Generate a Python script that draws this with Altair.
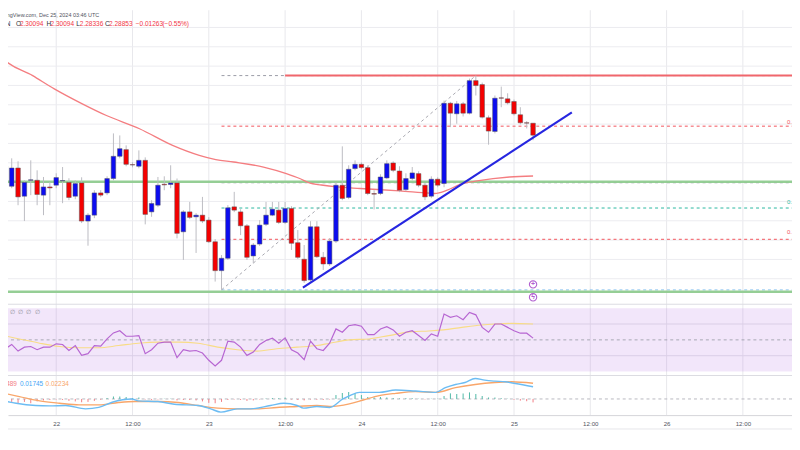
import altair as alt
import pandas as pd

# ---------------- data ----------------
# hourly candles, hour 0 = Dec 22 00:00 UTC
hours = list(range(-9, 76))
opens = [2.2378, 2.2564, 2.2357, 2.2546, 2.2254, 2.2419, 2.2419, 2.2265, 2.2350, 2.2368,
         2.2412, 2.2396, 2.2254, 2.2391, 2.1997, 2.2058, 2.2288, 2.2288, 2.2437, 2.2667,
         2.2736, 2.2581, 2.2564, 2.2625, 2.2092, 2.2161, 2.2378, 2.2375, 2.2391, 2.1886,
         2.2092, 2.2041, 2.2058, 2.2007, 2.1783, 2.1484, 2.1612, 2.2144, 2.2092, 2.1948,
         2.1636, 2.1759, 2.1963, 2.2058, 2.2110, 2.1983, 2.2127, 2.1773, 2.1602, 2.1388,
         2.1938, 2.1622, 2.1553, 2.1790, 2.2368, 2.2241, 2.2540, 2.2584, 2.2550, 2.2282,
         2.2282, 2.2443, 2.2598, 2.2515, 2.2323, 2.2437, 2.2488, 2.2368, 2.2254, 2.2430,
         2.2385, 2.3216, 2.3107, 2.3210, 2.3113, 2.3450, 2.3409, 2.3066, 2.2924, 2.3272,
         2.3262, 2.3234, 2.3097, 2.3014, 2.30094]
highs = [2.2625, 2.2646, 2.2646, 2.2615, 2.2419, 2.2625, 2.2522, 2.2453, 2.2402, 2.2491,
         2.2556, 2.2440, 2.2419, 2.2450, 2.2079, 2.2316, 2.2316, 2.2460, 2.2904, 2.2883,
         2.2780, 2.2605, 2.2728, 2.2656, 2.2213, 2.2453, 2.2460, 2.2574, 2.2437, 2.2110,
         2.2195, 2.2079, 2.2247, 2.2038, 2.1811, 2.1646, 2.2162, 2.2299, 2.2120, 2.1966,
         2.1770, 2.2007, 2.2195, 2.2195, 2.2195, 2.2195, 2.2151, 2.1904, 2.1749, 2.1996,
         2.1996, 2.1677, 2.1821, 2.2399, 2.2770, 2.2574, 2.2625, 2.2605, 2.2574, 2.2316,
         2.2481, 2.2625, 2.2615, 2.2564, 2.2491, 2.2556, 2.2512, 2.2388, 2.2460, 2.2450,
         2.3244, 2.3230, 2.3240, 2.3230, 2.3471, 2.3502, 2.3430, 2.3089, 2.3296, 2.3388,
         2.3319, 2.3254, 2.3175, 2.3031, 2.30094]
lows = [2.2337, 2.2347, 2.2337, 2.2161, 2.1997, 2.2265, 2.2161, 2.2058, 2.2161, 2.2337,
        2.2182, 2.2213, 2.2223, 2.1976, 2.1742, 2.2027, 2.2244, 2.2265, 2.2419, 2.2646,
        2.2564, 2.2553, 2.2543, 2.1963, 2.2041, 2.2141, 2.2316, 2.2337, 2.1818, 2.1595,
        2.2017, 2.1667, 2.1976, 2.1770, 2.1371, 2.1285, 2.1595, 2.2089, 2.1852, 2.1595,
        2.1560, 2.1739, 2.1945, 2.2048, 2.1966, 2.1966, 2.1698, 2.1605, 2.1357, 2.1368,
        2.1615, 2.1491, 2.1532, 2.1770, 2.2213, 2.2223, 2.2522, 2.2533, 2.2265, 2.2117,
        2.2265, 2.2430, 2.2502, 2.2296, 2.2306, 2.2419, 2.2347, 2.2213, 2.2234, 2.2347,
        2.2347, 2.2969, 2.3004, 2.3079, 2.3100, 2.3296, 2.3058, 2.2787, 2.2904, 2.3175,
        2.3203, 2.3089, 2.2997, 2.2955, 2.28336]
closes = [2.2564, 2.2378, 2.2546, 2.2247, 2.2396, 2.2424, 2.2272, 2.2350, 2.2340, 2.2447,
          2.2416, 2.2241, 2.2385, 2.1997, 2.2058, 2.2288, 2.2265, 2.2437, 2.2667, 2.2746,
          2.2584, 2.2577, 2.2625, 2.2066, 2.2179, 2.2368, 2.2371, 2.2391, 2.1870, 2.2092,
          2.2035, 2.2058, 2.1997, 2.1783, 2.1484, 2.1612, 2.2134, 2.2110, 2.1948, 2.1622,
          2.1749, 2.1955, 2.2058, 2.2120, 2.1983, 2.2127, 2.1767, 2.1622, 2.1381, 2.1938,
          2.1628, 2.1553, 2.1790, 2.2368, 2.2231, 2.2533, 2.2584, 2.2550, 2.2282, 2.2275,
          2.2453, 2.2591, 2.2522, 2.2316, 2.2437, 2.2495, 2.2368, 2.2247, 2.2430, 2.2368,
          2.3216, 2.3113, 2.3210, 2.3113, 2.3450, 2.3399, 2.3072, 2.2928, 2.3268, 2.3268,
          2.3220, 2.3107, 2.3014, 2.3010, 2.28853]

# 100 EMA (salmon curve)
ema_hours = [-9.2, -8.4, -3.7, -0.3, 4.1, 7.9, 13.1, 18.3, 22.5, 25.1,
             27.9, 32.6, 36.2, 38.3, 39.8, 41.7, 44.2, 47.8, 54.0, 58.7,
             59.5, 61.5, 63.6, 66.2, 71.3, 75.0]
ema_values = [2.3740, 2.3680, 2.3502, 2.3365, 2.3210, 2.3089, 2.2952, 2.2780, 2.2677, 2.2633,
              2.2608, 2.2556, 2.2488, 2.2437, 2.2391, 2.2370, 2.2350, 2.2334, 2.2309, 2.2285,
              2.2282, 2.2316, 2.2378, 2.2412, 2.2453, 2.2463]

# RSI (hourly) and its moving average
rsi_values = [46.4, 44.4, 47.1, 42.9, 45.4, 45.8, 43.8, 45.4, 45.4, 47.5,
              47.1, 43.3, 46.4, 40.2, 41.3, 46.3, 46.1, 50.6, 54.4, 55.8,
              52.3, 52.3, 52.7, 41.3, 43.8, 47.9, 48.6, 48.6, 38.8, 43.8,
              42.9, 43.3, 41.7, 37.1, 33.6, 37.1, 49.2, 48.6, 45.4, 40.2,
              42.3, 47.1, 49.6, 51.1, 47.9, 51.3, 43.8, 41.7, 37.5, 49.2,
              44.4, 43.3, 47.9, 56.9, 54.8, 58.9, 59.6, 58.6, 53.3, 53.3,
              56.9, 58.3, 56.3, 52.3, 54.8, 55.8, 52.7, 49.6, 53.8, 52.3,
              66.3, 64.2, 65.2, 62.7, 67.3, 65.8, 57.9, 54.8, 60.0, 60.0,
              57.9, 55.8, 54.2, 54.2, 51.1]
rsi_ma_hours = [-8.9, -5.8, -2.6, 0.5, 3.6, 6.7, 9.8, 12.9, 16.0, 19.2,
                22.3, 25.4, 28.5, 31.6, 34.7, 37.9, 41.0, 43.0, 46.1, 49.2,
                52.3, 56.0, 58.6, 60.9, 63.8, 66.9, 69.0, 71.6, 75.0]
rsi_ma_values = [53.3, 50.6, 47.9, 45.8, 45.0, 45.0, 46.4, 47.9, 48.6, 48.6,
                 47.9, 45.4, 43.8, 42.9, 44.4, 45.4, 46.4, 47.9, 50.0, 50.6,
                 52.7, 55.2, 55.6, 56.3, 57.9, 59.4, 60.0, 60.4, 60.0]

# MACD
macd_hours = [-8.9, -6.3, -3.2, -1.1, 1.5, 4.6, 6.7, 8.8, 11.9, 12.9,
              16.0, 18.6, 22.3, 24.3, 25.9, 28.5, 30.6, 33.7, 35.8, 37.9,
              38.9, 41.0, 43.0, 45.1, 46.2, 47.7, 50.8, 53.4, 56.5, 59.7,
              61.2, 62.8, 64.3, 65.9, 67.4, 69.0, 70.6, 72.2, 75.0]
macd_values = [-0.0014, -0.0061, -0.0093, -0.0099, -0.0093, -0.0141, -0.0121, -0.0047, 0.0000, -0.0028,
               -0.0037, -0.0075, -0.0093, -0.0141, -0.0188, -0.0141, -0.0141, -0.0093, -0.0061, -0.0093,
               -0.0131, -0.0107, -0.0121, 0.0000, 0.0048, 0.0094, 0.0094, 0.0127, 0.0113, 0.0094,
               0.0161, 0.0207, 0.0235, 0.0292, 0.0268, 0.0254, 0.0245, 0.0221, 0.01745]
signal_hours = [-8.9, -5.8, -2.6, 0.5, 3.6, 6.7, 9.8, 12.4, 16.0, 19.2,
                22.3, 25.4, 28.5, 31.6, 34.7, 37.9, 41.0, 43.0, 46.1, 48.3,
                50.8, 53.4, 56.5, 59.7, 62.8, 65.9, 69.0, 71.6, 75.0]
signal_values = [0.0094, 0.0034, -0.0028, -0.0061, -0.0085, -0.0085, -0.0051, -0.0037, -0.0037, -0.0051,
                 -0.0093, -0.0131, -0.0141, -0.0141, -0.0121, -0.0107, -0.0093, -0.0107, -0.0070, -0.0015,
                 0.0048, 0.0080, 0.0104, 0.0094, 0.0161, 0.0207, 0.0235, 0.0245, 0.02234]
hist_values = [-0.0042, -0.0085, -0.0042, -0.0061, -0.0042, -0.0061, -0.0035, -0.0021, -0.0014, -0.0007,
               -0.0014, -0.0028, -0.0035, -0.0047, -0.0042, -0.0028, -0.0011, 0.0014, 0.0035, 0.0035,
               0.0028, 0.0014, 0.0021, -0.0007, -0.0014, -0.0007, 0.0004, 0.0004, -0.0021, -0.0014,
               -0.0014, -0.0021, -0.0035, -0.0056, -0.0061, -0.0042, -0.0014, -0.0007, -0.0014, -0.0028,
               -0.0021, -0.0007, 0.0007, 0.0014, 0.0011, 0.0020, -0.0007, -0.0014, -0.0021, -0.0007,
               -0.0011, -0.0014, -0.0007, 0.0056, 0.0085, 0.0099, 0.0085, 0.0056, 0.0028, 0.0021,
               0.0028, 0.0021, 0.0014, 0.0007, 0.0011, 0.0011, 0.0004, -0.0007, 0.0004, 0.0004,
               0.0042, 0.0080, 0.0071, 0.0078, 0.0094, 0.0071, 0.0042, 0.0021, 0.0021, 0.0011,
               0.0004, -0.0011, -0.0024, -0.0032, -0.00489]

# drawing tools / levels
grid_prices = [2.14, 2.16, 2.18, 2.20, 2.22, 2.24, 2.26, 2.28, 2.30, 2.32, 2.34, 2.36, 2.38, 2.40]
support_levels = [2.2404, 2.1265]
resistance_price = 2.3502
resistance_start_hour = 36
fib_low_hour, fib_low_price = 26, 2.1285
fib_high_hour, fib_high_price = 66, 2.3502
fib_ratios = [0.0, 0.236, 0.5, 0.618, 0.764, 1.0]
fib_colors = ["#9a9ca6", "#f2545c", "#9a9ca6", "#2bb7a0", "#f2545c", "#8ec5f0"]
trend_hours = [38.8, 81.1]
trend_prices = [2.1308, 2.3121]
event_hours = [75, 75]
event_prices = [2.1342, 2.1208]
event_glyphs = ["+", "ϟ"]
rsi_grid = [40, 60]
time_ticks = [0, 12, 24, 36, 48, 60, 72, 84, 96, 108]
tick_labels = ["22", "12:00", "23", "12:00", "24", "12:00", "25", "12:00", "26", "12:00"]

# ---------------- layout ----------------
OFF = 8                      # page margin (reference px -> chart px)
W, H, PAD_B = 792, 409, 33
PX_H = 6.4229                # pixels per hour
X_H0 = 56.7 - OFF            # chart x of hour 0
FONT = "Liberation Sans"

xs = alt.Scale(domain=[-X_H0 / PX_H, (W - X_H0) / PX_H], nice=False, zero=False, padding=0)
ps = alt.Scale(domain=[2.12, 2.40], range=[298.8 - OFF, 25.4 - OFF], nice=False, zero=False, padding=0)
rs = alt.Scale(domain=[30, 70], range=[373 - OFF, 309 - OFF], nice=False, zero=False, padding=0)
ms = alt.Scale(domain=[-0.025, 0.025], range=[418.4 - OFF, 383.0 - OFF], nice=False, zero=False, padding=0)

label_expr = " : ".join(f"datum.value == {v} ? '{t}'" for v, t in zip(time_ticks, tick_labels)) + " : ''"
x_axis = alt.Axis(values=time_ticks, labelExpr=label_expr, grid=False, ticks=False,
                  domain=True, domainColor="#d5d5da", domainWidth=1, labelFont=FONT,
                  labelFontSize=6.2, labelColor="#50535e", labelPadding=5.5, labelFlush=False,
                  labelOverlap=False, title=None)


def X(f="h"):
    return alt.X(f"{f}:Q", scale=xs, axis=x_axis)


def Y(f, s):
    return alt.Y(f"{f}:Q", scale=s, axis=None)


candles = pd.DataFrame({"h": hours, "open": opens, "high": highs, "low": lows, "close": closes})
candles["dir"] = ["up" if c >= o else "down" for o, c in zip(opens, closes)]
ema = pd.DataFrame({"h": ema_hours, "v": ema_values})
rsi = pd.DataFrame({"h": hours, "v": rsi_values})
rsi_ma = pd.DataFrame({"h": rsi_ma_hours, "v": rsi_ma_values})
macd = pd.DataFrame({"h": macd_hours, "v": macd_values})
signal = pd.DataFrame({"h": signal_hours, "v": signal_values})
hist = pd.DataFrame({"h": hours, "v": hist_values, "zero": 0.0})
hist["sign"] = ["pos" if v >= 0 else "neg" for v in hist_values]
fib = pd.DataFrame({
    "r": [str(r) for r in fib_ratios],
    "p": [fib_high_price - r * (fib_high_price - fib_low_price) for r in fib_ratios],
    "h": fib_low_hour,
})
fib_diag = pd.DataFrame({"h": [fib_low_hour, fib_high_hour], "p": [fib_low_price, fib_high_price]})
trend = pd.DataFrame({"h": trend_hours, "p": trend_prices})
ticks = pd.DataFrame({"h": time_ticks})
events = pd.DataFrame({"h": event_hours, "p": event_prices, "g": event_glyphs})

layers = []

# vertical grid (carries the time axis)
layers.append(alt.Chart(ticks).mark_rule(color="#e8e8ec", strokeWidth=1)
              .encode(x=X(), y=alt.value(0), y2=alt.value(H)))
# horizontal price grid
layers.append(alt.Chart(pd.DataFrame({"p": grid_prices})).mark_rule(color="#ececf0", strokeWidth=1)
              .encode(y=Y("p", ps)))
# RSI grid (under the band fill)
layers.append(alt.Chart(pd.DataFrame({"v": rsi_grid})).mark_rule(color="#e3e3e8", strokeWidth=1)
              .encode(y=Y("v", rs)))
# pane separators / axis bottom line
layers.append(alt.Chart(pd.DataFrame({"k": [0]})).mark_rule(color="#dcdce2", strokeWidth=1)
              .encode(y=alt.value(305 - OFF)))
layers.append(alt.Chart(pd.DataFrame({"k": [0]})).mark_rule(color="#dcdce2", strokeWidth=1)
              .encode(y=alt.value(377 - OFF)))
layers.append(alt.Chart(pd.DataFrame({"k": [0]})).mark_rule(color="#e6e6ea", strokeWidth=1)
              .encode(y=alt.value(431 - OFF)))
# RSI band background
layers.append(alt.Chart(pd.DataFrame({"a": [70], "b": [30]})).mark_rect(color="#b36be0", opacity=0.17)
              .encode(x=alt.value(0), x2=alt.value(W), y=Y("a", rs), y2="b:Q"))
layers.append(alt.Chart(pd.DataFrame({"v": [50]})).mark_rule(color="#9598a1", strokeDash=[3, 3], strokeWidth=1, opacity=0.8)
              .encode(y=Y("v", rs)))

# fib retracement
layers.append(alt.Chart(fib).mark_rule(strokeDash=[3, 3], strokeWidth=1).encode(
    x=X(), x2=alt.value(W), y=Y("p", ps),
    color=alt.Color("r:N", scale=alt.Scale(domain=[str(r) for r in fib_ratios], range=fib_colors), legend=None)))
layers.append(alt.Chart(fib_diag).mark_line(color="#a8a8b0", strokeDash=[3, 3], strokeWidth=1)
              .encode(x=X(), y=Y("p", ps)))
# support (green) and resistance (red)
layers.append(alt.Chart(pd.DataFrame({"p": support_levels})).mark_rule(color="#8fcb8f", strokeWidth=2.5, opacity=0.95)
              .encode(y=Y("p", ps)))
layers.append(alt.Chart(pd.DataFrame({"h": [resistance_start_hour], "p": [resistance_price]}))
              .mark_rule(color="#f0666c", strokeWidth=2).encode(x=X(), x2=alt.value(W), y=Y("p", ps)))
# EMA
layers.append(alt.Chart(ema).mark_line(color="#f47d80", strokeWidth=1.3, interpolate="monotone")
              .encode(x=X(), y=Y("v", ps)))
# candles
layers.append(alt.Chart(candles).mark_rule(color="#bcbcc2", strokeWidth=1)
              .encode(x=X(), y=Y("low", ps), y2="high:Q"))
layers.append(alt.Chart(candles).mark_bar(size=4.6, stroke="#55555c", strokeWidth=0.5).encode(
    x=X(), y=Y("open", ps), y2="close:Q",
    color=alt.Color("dir:N", scale=alt.Scale(domain=["up", "down"], range=["#0c0cf0", "#f40000"]), legend=None)))
# trend line
layers.append(alt.Chart(trend).mark_line(color="#2626e0", strokeWidth=2.2)
              .encode(x=X(), y=Y("p", ps)))
# event markers
layers.append(alt.Chart(events).mark_point(shape="circle", size=55, filled=True, fill="white",
                                           stroke="#b15fd0", strokeWidth=1.1, opacity=1)
              .encode(x=X(), y=Y("p", ps)))
layers.append(alt.Chart(events).mark_text(color="#b15fd0", fontSize=7, font=FONT, fontWeight="bold")
              .encode(x=X(), y=Y("p", ps), text="g:N"))

# RSI lines
layers.append(alt.Chart(rsi_ma).mark_line(color="#f8dc86", strokeWidth=1.1, interpolate="monotone")
              .encode(x=X(), y=Y("v", rs)))
layers.append(alt.Chart(rsi).mark_line(color="#b766d2", strokeWidth=1.2)
              .encode(x=X(), y=Y("v", rs)))

# MACD
layers.append(alt.Chart(pd.DataFrame({"v": [0.0]})).mark_rule(color="#b8b8c0", strokeDash=[3, 3], strokeWidth=1)
              .encode(y=Y("v", ms)))
layers.append(alt.Chart(hist).mark_rule(strokeWidth=1).encode(
    x=X(), y=Y("zero", ms), y2="v:Q",
    color=alt.Color("sign:N", scale=alt.Scale(domain=["pos", "neg"], range=["#4fb8a6", "#f27c84"]), legend=None)))
layers.append(alt.Chart(signal).mark_line(color="#f9a66a", strokeWidth=1.4, interpolate="monotone")
              .encode(x=X(), y=Y("v", ms)))
layers.append(alt.Chart(macd).mark_line(color="#6cbcf3", strokeWidth=1.4, interpolate="monotone")
              .encode(x=X(), y=Y("v", ms)))


# ---------------- texts ----------------
def label(text, rx, ry, color, size=7, align="left", baseline="middle", weight="normal"):
    return alt.Chart(pd.DataFrame({"t": [text]})).mark_text(
        align=align, baseline=baseline, fontSize=size, font=FONT, color=color, fontWeight=weight
    ).encode(x=alt.value(rx - OFF), y=alt.value(ry - OFF), text="t:N")


DARK, RED = "#2a2e39", "#f23645"
layers.append(label("TradingView.com, Dec 25, 2024 03:46 UTC", -5.5, 12.5, "#50535e", size=5.5))
for rx, t, c in [(-3, "KEN", DARK), (16, "O", DARK), (20, "2.30094", RED), (47, "H", DARK),
                 (51, "2.30094", RED), (77, "L", DARK), (80.5, "2.28336", RED), (106, "C", DARK),
                 (110, "2.28853", RED), (137, "\u22120.01263", RED), (164, "(\u22120.55%)", RED)]:
    layers.append(label(t, rx, 22, c, size=6.6))
layers.append(label("14", -2, 313, "#f2c94c", size=6))
for rx in [12.7, 20.7, 29, 37.3]:
    layers.append(label("\u2205", rx, 313, "#8a8d96", size=6, align="center"))
layers.append(label("\u22120.00489", 17, 386, "#f27c84", size=6.5, align="right"))
layers.append(label("0.01745", 20, 386, "#42a5f5", size=6.5))
layers.append(label("0.02234", 46, 386, "#f9a66a", size=6.5))
layers.append(label("0.236", 795, 120.5, "#f2545c", size=6))
layers.append(label("0.618", 795, 201.5, "#2bb7a0", size=6))
layers.append(label("0.764", 795, 232.5, "#f2545c", size=6))

chart = alt.layer(*layers).resolve_scale(y="independent", color="independent").properties(
    width=W, height=H,
    padding={"left": 0, "top": 0, "right": 0, "bottom": PAD_B},
    autosize=alt.AutoSizeParams(type="none"),
    background="white",
).configure_view(stroke=None)

chart.save("out.html", embed_options={"renderer": "svg", "actions": False})
